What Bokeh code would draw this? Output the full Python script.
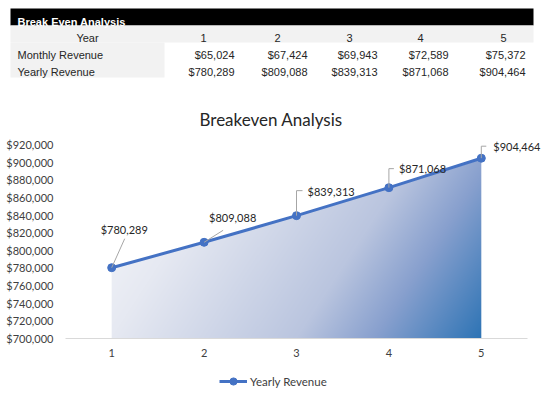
import numpy as np
from bokeh.plotting import figure
from bokeh.layouts import column
from bokeh.models import (Range1d, FixedTicker, NumeralTickFormatter,
                          Legend, LegendItem)
from bokeh.core.properties import value
from bokeh.embed import file_html
from bokeh.resources import INLINE

# data
years = [1, 2, 3, 4, 5]
monthly_revenue = [65024, 67424, 69943, 72589, 75372]
yearly_revenue = [780289, 809088, 839313, 871068, 904464]
y_ticks = list(range(700000, 920001, 20000))

BLUE = "#4472C4"
TXT = "#262626"

# ---- table on top (coordinates are pixels, y down) ----
t = figure(width=547, height=88, x_range=Range1d(0, 547), y_range=Range1d(88, 0),
           output_backend="svg", toolbar_location=None, min_border=0, frame_align=False)
t.axis.visible = False
t.grid.visible = False
t.outline_line_color = None

t.quad(left=[10], right=[533], top=[8], bottom=[25], fill_color="black", line_color=None)
t.quad(left=[10], right=[533], top=[25], bottom=[42], fill_color="#f2f2f2", line_color=None)
t.quad(left=[10], right=[164], top=[42], bottom=[77], fill_color="#f2f2f2", line_color=None)

tfont = value("Liberation Sans")
t.text(x=[17], y=[21], text=["Break Even Analysis"], text_font=tfont, text_font_size="11px",
       text_font_style="bold", text_color="white", text_baseline="middle")
t.text(x=[87, 17, 17], y=[37, 54, 71], text=["Year", "Monthly Revenue", "Yearly Revenue"],
       text_font=tfont, text_font_size="11px", text_color=TXT, text_baseline="middle",
       text_align=["center", "left", "left"])

year_cx = [203, 277, 349, 420, 503]
col_right = [234, 307, 377, 448, 525]
t.text(x=year_cx, y=[37] * 5, text=[str(y) for y in years], text_font=tfont,
       text_font_size="11px", text_color=TXT, text_baseline="middle", text_align="center")
t.text(x=col_right, y=[54] * 5, text=[f"${v:,}" for v in monthly_revenue], text_font=tfont,
       text_font_size="11px", text_color=TXT, text_baseline="middle", text_align="right")
t.text(x=col_right, y=[71] * 5, text=[f"${v:,}" for v in yearly_revenue], text_font=tfont,
       text_font_size="11px", text_color=TXT, text_baseline="middle", text_align="right")

# ---- chart ----
sx = 462 / 5          # px per year
sy = 194 / 220000     # px per dollar
x0 = 0.5
y0 = 700000
FW, FH = 482, 203     # frame runs past the axis box so the last label is not clipped
p = figure(width=547, height=276, x_range=Range1d(x0, x0 + FW / sx),
           y_range=Range1d(y0, y0 + FH / sy),
           output_backend="svg", toolbar_location=None, frame_align=False,
           min_border_left=65, min_border_right=0, min_border_top=47, min_border_bottom=26)
p.grid.visible = False
p.outline_line_color = None

p.title.text = "Breakeven Analysis"
p.title.text_font = "Lato"
p.title.text_font_size = "17px"
p.title.text_font_style = "normal"
p.title.text_color = "#262626"
p.title.align = "left"
p.title.offset = 134
p.title.standoff = 11

cfont = value("Lato")
p.xaxis.ticker = FixedTicker(ticks=years)
p.xaxis.bounds = (x0, years[-1] + 0.5)
p.yaxis.ticker = FixedTicker(ticks=y_ticks)
p.yaxis.formatter = NumeralTickFormatter(format="$0,0")
p.yaxis.axis_line_color = None
p.axis.major_tick_line_color = None
p.axis.major_tick_out = 0
p.axis.major_tick_in = 0
p.axis.minor_tick_line_color = None
p.xaxis.axis_line_color = "#d9d9d9"
p.axis.major_label_text_font = "Lato"
p.axis.major_label_text_font_size = "11px"
p.axis.major_label_text_color = "#404040"
p.yaxis.major_label_standoff = 12
p.xaxis.major_label_standoff = 10

# gradient area under the line
ymax = max(yearly_revenue)
W = int(round((years[-1] - years[0]) * sx))
H = int(round((ymax - y0) * sy))
gx = np.linspace(years[0], years[-1], W)
gy = np.linspace(y0, ymax, H)
XX, YY = np.meshgrid(gx, gy)
u = (XX - years[0]) / (years[-1] - years[0])
v = (ymax - YY) / (ymax - y0)
tt = 0.76 * u + 0.24 * v
stops = [0.0, 0.24, 0.62, 0.78, 1.0]
cols = np.array([[247, 248, 251], [230, 233, 242], [186, 197, 223],
                 [136, 160, 206], [46, 116, 181]])
rgba = np.zeros((H, W, 4), dtype=np.uint8)
for c in range(3):
    rgba[..., c] = np.interp(tt, stops, cols[:, c]).astype(np.uint8)
top = np.interp(gx, years, yearly_revenue)
rgba[..., 3] = np.where(YY <= top[None, :], 255, 0)
p.image_rgba(image=[rgba.view(np.uint32).reshape(H, W)], x=years[0], y=y0,
             dw=years[-1] - years[0], dh=ymax - y0)

p.line(years, yearly_revenue, line_color=BLUE, line_width=3)
p.scatter(years, yearly_revenue, size=8, fill_color=BLUE, line_color=BLUE)

# data labels with leader lines (pixel offsets from the point)
lab_dx = [-11, 5, 11, 10, 12]
lab_dy = [38, 25, 24, 19, 12]
lead = [[(13, 29)], [(19, 12)], [(0, 25), (6, 25)], [(0, 19), (5, 19)], [(0, 12), (5, 12)]]
for xv, yv, pts in zip(years, yearly_revenue, lead):
    xs = [xv] + [xv + a / sx for a, b in pts]
    ys = [yv] + [yv + b / sy for a, b in pts]
    p.line(xs, ys, line_color="#a6a6a6", line_width=1)
p.text(x=years, y=yearly_revenue, text=[f"${v:,}" for v in yearly_revenue],
       x_offset=lab_dx, y_offset=[-d for d in lab_dy], text_font=cfont,
       text_font_size="11px", text_color=TXT, text_baseline="middle", text_align="left")

# ---- legend strip (series kept out of view, only its legend entry shows) ----
lg = figure(width=547, height=38, x_range=Range1d(-2, -1), y_range=Range1d(0, 1),
            output_backend="svg", toolbar_location=None, min_border=0, frame_align=False)
lg.axis.visible = False
lg.grid.visible = False
lg.outline_line_color = None
ln = lg.line(years, yearly_revenue, line_color=BLUE, line_width=3)
mk = lg.scatter(years, yearly_revenue, size=8, fill_color=BLUE, line_color=BLUE)
legend = Legend(items=[LegendItem(label="Yearly Revenue", renderers=[ln, mk])],
                location=(219, 12), orientation="horizontal", border_line_color=None,
                background_fill_alpha=0, padding=0, margin=0, glyph_width=28,
                glyph_height=18, label_standoff=3, label_text_font="Lato",
                label_text_font_size="11.5px", label_text_color="#404040")
lg.add_layout(legend)

layout = column(t, p, lg)
open("out.html", "w").write(file_html(layout, INLINE))
